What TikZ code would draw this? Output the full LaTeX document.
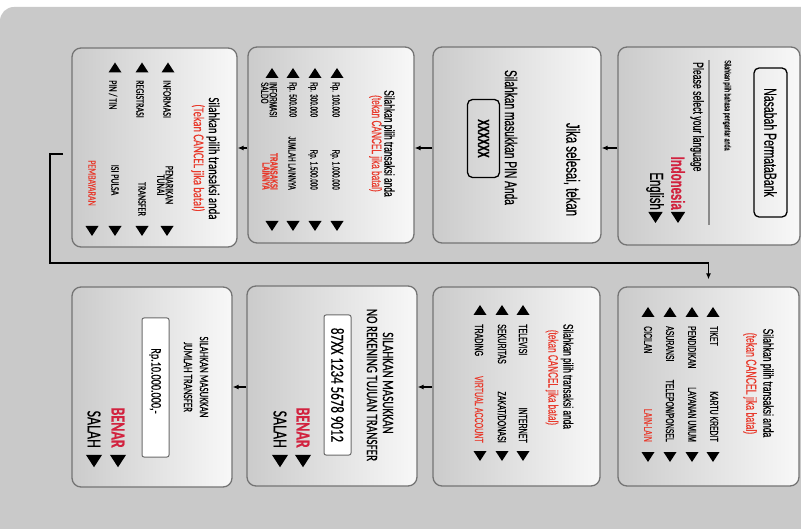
\documentclass[tikz,border=0pt]{standalone}
\usepackage{fontspec}
\newfontfamily\nar{Liberation Sans}[FakeStretch=0.6,FakeBold=0.5]
\newfontfamily\hum{Carlito}[FakeStretch=0.7,FakeBold=0.3]
\usetikzlibrary{arrows.meta}
\definecolor{bgc}{HTML}{C9C9C9}
\definecolor{pleft}{HTML}{CBCBCB}
\definecolor{pright}{HTML}{F8F8F8}
\definecolor{pborder}{HTML}{747474}
\definecolor{boxc}{HTML}{6A6A6A}
\definecolor{langc}{HTML}{8A8A8A}
\definecolor{redA}{HTML}{D2223F}
\definecolor{redB}{HTML}{E8392B}
\newcommand\nf[1]{\nar\fontsize{#1}{#1}\selectfont}
\newcommand\hf[1]{\hum\fontsize{#1}{#1}\selectfont}
\tikzset{
  panel/.style={draw=pborder, line width=1.3pt, rounded corners=9pt, left color=pleft, right color=pright, inner sep=0pt},
  rt/.style={rotate=-90, inner sep=0pt, text=black},
  keybox/.style={draw=black, line width=1.3pt, rounded corners=5pt},
  inbox/.style={draw=boxc, fill=white, line width=1pt, rounded corners=2pt},
  arr/.style={-{Latex[length=6pt,width=5pt]}, line width=1.1pt, draw=black},
  tup/.pic={\fill (-6.5,5) -- (6.5,5) -- (0,-5) -- cycle;},
  tdn/.pic={\fill (-6.5,-5) -- (6.5,-5) -- (0,5) -- cycle;}
}
\begin{document}
\begin{tikzpicture}[x=1pt,y=-1pt]
\clip (0,0) rectangle (801,529);
\fill[white] (0,0) rectangle (801,529);
\fill[bgc, rounded corners=14pt] (0,7) rectangle (830,560);

% panels
\node[panel, minimum width=182pt, minimum height=198pt] (p1) at (709,146) {};
\node[panel, minimum width=168pt, minimum height=196pt] (p2) at (517,145) {};
\node[panel, minimum width=166pt, minimum height=196pt] (p3) at (331,145) {};
\node[panel, minimum width=165pt, minimum height=199pt] (p4) at (154.5,147.5) {};
\node[panel, minimum width=181pt, minimum height=199pt] (p5) at (708.5,386.5) {};
\node[panel, minimum width=167pt, minimum height=199pt] (p6) at (516.5,386.5) {};
\node[panel, minimum width=170pt, minimum height=200pt] (p7) at (332,386) {};
\node[panel, minimum width=160pt, minimum height=200pt] (p8) at (152,387) {};

% connectors
\coordinate (ya) at (0,148);
\coordinate (yb) at (0,387);
\coordinate (s4) at (63,154);
\coordinate (cA) at (50,263);
\draw[arr] (p1.west |- ya) -- (p2.east |- ya);
\draw[arr] (p2.west |- ya) -- (p3.east |- ya);
\draw[arr] (p3.west |- ya) -- (p4.east |- ya);
\draw[arr, shorten >=7pt] (s4) -| (cA) -| (p5.north);
\draw[arr] (p6.west |- yb) -- (p7.east |- yb);
\draw[arr] (p7.west |- yb) -- (p8.east |- yb);

% panel 1
\node[rt, keybox, minimum width=149pt, minimum height=33pt, font=\nf{17.5}] (t1a) at (770.5,142.5) {Nasabah PermataBank};
\node[rt, anchor=west, font=\nf{9}] (t1b) at (727,60) {Silahkan pilih bahasa pengantar anda};
\draw[draw=langc, line width=2pt] (709,60) -- (709,225);
\node[rt, anchor=west, font=\nf{14.5}] (t1c) at (697,62) {Please select your language};
\node[rt, anchor=east, font=\nf{19}\bfseries, text=redA] (t1d) at (678,210) {Indonesia};
\pic[scale=1.1] at (678,217.5) {tdn};
\node[rt, anchor=east, font=\nf{19}] (t1e) at (655,210) {English};
\pic[scale=1.1] at (655.5,217.5) {tdn};

% panel 2
\node[rt, font=\nf{19}] (t2a) at (572,169.5) {Jika selesai, tekan};
\node[rt, font=\nf{17}] (t2b) at (511,137.5) {Silahkan masukkan PIN Anda};
\node[rt, keybox, minimum width=78pt, minimum height=32pt, font=\nf{16}\bfseries] (t2c) at (483.5,138.5) {XXXXXX};

% panel 3
\node[rt, font=\nf{14}] (t3a) at (388,143.5) {Silahkan pilih transaksi anda};
\node[rt, font=\nf{13.8}, text=redB] (t3b) at (375.5,143.5) {(tekan CANCEL jika batal)};
\foreach \xx in {337,315,293,272} {\pic at (\xx,73) {tup}; \pic at (\xx,226) {tdn};}
\node[rt, anchor=west, font=\nf{10.5}] (t3c) at (335,82) {Rp. 100.000};
\node[rt, anchor=west, font=\nf{10.5}] (t3d) at (313,82) {Rp. 300.000};
\node[rt, anchor=west, font=\nf{10.5}] (t3e) at (292,82) {Rp. 500.000};
\node[rt, anchor=west, align=left, font={\nar\fontsize{10.5}{8.5}\selectfont}] (t3f) at (269,82) {INFORMASI\\SALDO};
\node[rt, anchor=east, font=\nf{10.5}] (t3g) at (335,190) {Rp. 1.000.000};
\node[rt, anchor=east, font=\nf{10.5}] (t3h) at (313,190) {Rp. 1.500.000};
\node[rt, anchor=east, font=\nf{10.5}] (t3i) at (292,190) {JUMLAH LAINNYA};
\node[rt, anchor=east, align=right, text=redB, font={\nar\fontsize{10.5}{8}\selectfont\bfseries}] (t3j) at (270,190) {TRANSAKSI\\LAINNYA};

% panel 4
\node[rt, font=\hf{15.3}] (t4a) at (213,158.5) {Silahkan pilih transaksi anda};
\node[rt, font=\hf{15}, text=redB] (t4b) at (198,158) {(Tekan CANCEL jika batal)};
\foreach \xx in {168,142,115} {\pic at (\xx,67.5) {tup};}
\foreach \xx in {167,142,115,92} {\pic at (\xx,231) {tdn};}
\node[rt, anchor=west, font=\hf{11.5}] (t4c) at (167,80) {INFORMASI};
\node[rt, anchor=west, font=\hf{11.5}] (t4d) at (140,80) {REGISTRASI};
\node[rt, anchor=west, font=\hf{11.5}] (t4e) at (113,80) {PIN / TIN};
\node[rt, align=center, font={\hum\fontsize{11.5}{8.5}\selectfont}] (t4f) at (165,185) {PENARIKAN\\TUNAI};
\node[rt, font=\hf{11.5}] (t4g) at (142,199) {TRANSFER};
\node[rt, font=\hf{11.5}] (t4h) at (115,180) {ISI PULSA};
\node[rt, font=\hf{11.5}, text=redB] (t4i) at (92,183) {PEMBAYARAN};

% panel 5
\node[rt, font=\nf{14.3}] (t5a) at (767,383) {Silahkan pilih transaksi anda};
\node[rt, font=\nf{14.5}, text=redB] (t5b) at (750,383.5) {(tekan CANCEL jika batal)};
\foreach \xx in {713,692,670,648} {\pic at (\xx,312) {tup}; \pic at (\xx,457) {tdn};}
\node[rt, anchor=west, font=\nf{11.5}] (t5c) at (714,326) {TIKET};
\node[rt, anchor=west, font=\nf{11.5}] (t5d) at (692,326) {PENDIDIKAN};
\node[rt, anchor=west, font=\nf{11.5}] (t5e) at (670,326) {ASURANSI};
\node[rt, anchor=west, font=\nf{11.5}] (t5f) at (648,326) {CICILAN};
\node[rt, anchor=east, font=\nf{11.5}] (t5g) at (714,442) {KARTU KREDIT};
\node[rt, anchor=east, font=\nf{11.5}] (t5h) at (692,442) {LAYANAN UMUM};
\node[rt, anchor=east, font=\nf{11.5}] (t5i) at (670,442) {TELEPON/PONSEL};
\node[rt, anchor=east, font=\nf{11.5}, text=redB] (t5j) at (648,442) {LAIN-LAIN};

% panel 6
\node[rt, font=\nf{13.8}] (t6a) at (567,376.5) {Silahkan pilih transaksi anda};
\node[rt, font=\nf{13.6}, text=redB] (t6b) at (552,377.5) {(tekan CANCEL jika batal)};
\foreach \xx in {523,502,480} {\pic at (\xx,310) {tup}; \pic at (\xx,456) {tdn};}
\node[rt, anchor=west, font=\nf{11.8}] (t6c) at (523,324) {TELEVISI};
\node[rt, anchor=west, font=\nf{11.8}] (t6d) at (502,324) {SEKURITAS};
\node[rt, anchor=west, font=\nf{11.8}] (t6e) at (479,324) {TRADING};
\node[rt, anchor=east, font=\nf{11.8}] (t6f) at (523,443) {INTERNET};
\node[rt, anchor=east, font=\nf{11.8}] (t6g) at (502,443) {ZAKAT/DONASI};
\node[rt, anchor=east, font=\nf{11.8}, text=redB] (t6h) at (479,443) {VIRTUAL ACCOUNT};

% panel 7
\node[rt, font=\hf{15.9}] (t7a) at (388,383) {SILAHKAN MASUKKAN};
\node[rt, font=\hf{15.9}] (t7b) at (372,385) {NO REKENING TUJUAN TRANSFER};
\node[rt, inbox, minimum width=140pt, minimum height=27pt, font=\hf{18.5}] (t7c) at (337.5,385) {87XX 1234 5678 9012};
\node[rt, anchor=east, font=\hf{20}\bfseries, text=redA] (t7d) at (303,448) {BENAR};
\pic[scale=1.25] at (303,461) {tdn};
\node[rt, anchor=east, font=\hf{20}] (t7e) at (280,448) {SALAH};
\pic[scale=1.25] at (280,461) {tdn};

% panel 8
\node[rt, align=center, font={\hum\fontsize{12.7}{16}\selectfont}] (t8a) at (196,377) {SILAHKAN MASUKKAN\\JUMLAH TRANSFER};
\node[rt, inbox, minimum width=139pt, minimum height=27pt] (t8b) at (155.5,387.5) {};
\node[rt, font=\hf{14.5}] (t8c) at (155,381) {Rp.10.000.000,-};
\node[rt, anchor=east, font=\hf{20}\bfseries, text=redA] (t8d) at (118,448) {BENAR};
\pic[scale=1.25] at (118,461) {tdn};
\node[rt, anchor=east, font=\hf{20}] (t8e) at (94,448) {SALAH};
\pic[scale=1.25] at (94,461) {tdn};
\end{tikzpicture}
\end{document}
